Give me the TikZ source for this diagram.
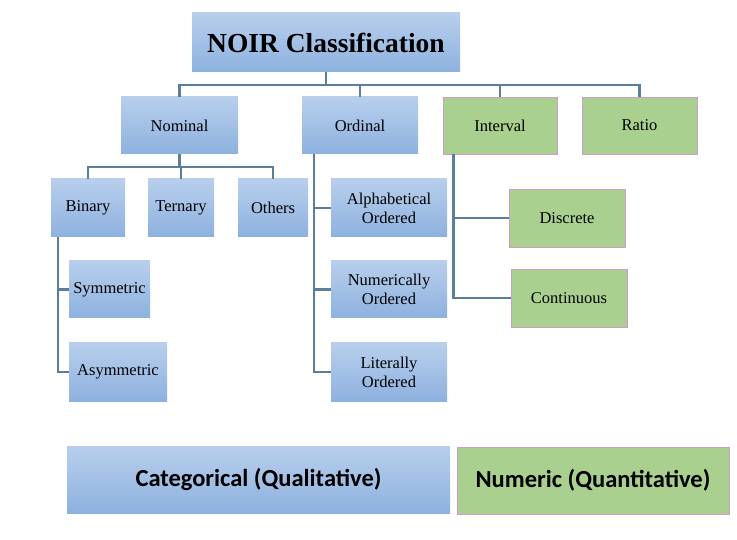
\documentclass[tikz,border=0pt]{standalone}
\usepackage{fontspec}
\setmainfont{Liberation Serif}
\newfontfamily\calib{Carlito}
\definecolor{bluetop}{HTML}{B8CFEC}
\definecolor{bluebot}{HTML}{8DB1DF}
\definecolor{greenfill}{HTML}{A9D08E}
\definecolor{pinkline}{HTML}{CE9BCB}
\definecolor{connline}{HTML}{5B7E9C}
\begin{document}
\begin{tikzpicture}[x=1pt,y=-1pt,
  bluebox/.style={rectangle, inner sep=0pt, top color=bluetop, bottom color=bluebot, draw=none, align=center, font=\fontsize{16.5}{19}\selectfont},
  greenbox/.style={rectangle, inner sep=0pt, fill=greenfill, draw=pinkline, line width=0.9pt, align=center, font=\fontsize{16.5}{19}\selectfont},
  conn/.style={draw=connline, line width=2.4pt},
  sz/.style 2 args={minimum width=#1pt, minimum height=#2pt}]
\useasboundingbox (0,0) rectangle (737,540);
% top
\node[bluebox, sz={268}{59}, font=\fontsize{27.5}{30}\selectfont\bfseries] (root) at (326,42.5) {NOIR Classification};
\node[bluebox, sz={117}{57}] (nominal) at (179.5,125.5) {Nominal};
\node[bluebox, sz={116}{57}] (ordinal) at (360,125.5) {Ordinal};
\node[greenbox, sz={114}{57}] (interval) at (500,125.5) {Interval};
\node[greenbox, sz={115}{57}] (ratio) at (639.5,125.5) {Ratio};
% nominal children
\node[bluebox, sz={74}{58}] (binary) at (88,208) {Binary};
\node[bluebox, sz={66}{58}] (ternary) at (181,208) {Ternary};
\node[bluebox, sz={70}{58}] (others) at (273,208) {Others};
% ordinal children
\node[bluebox, sz={116}{58}] (alpha) at (389,208) {Alphabetical\\Ordered};
\node[bluebox, sz={116}{57}] (numer) at (389,289.5) {Numerically\\Ordered};
\node[bluebox, sz={116}{58}] (liter) at (389,372) {Literally\\Ordered};
% binary children
\node[bluebox, sz={81}{57}] (symm) at (109.5,289.5) {Symmetric};
\node[bluebox, sz={98}{58}] (asym) at (118,372) {Asymmetric};
% interval children
\node[greenbox, sz={116}{58}] (discrete) at (567,218) {Discrete};
\node[greenbox, sz={116}{58}] (cont) at (569,298) {Continuous};
% bottom
\node[bluebox, sz={383}{67}, font=\calib\fontsize{24.5}{28}\selectfont\bfseries] (categ) at (258.5,479.5) {Categorical (Qualitative)};
\node[greenbox, sz={272}{67}, font=\calib\fontsize{24.5}{28}\selectfont\bfseries] (numeric) at (593,480.5) {Numeric (Quantitative)};
% connectors
\coordinate (bus) at (0,85);
\coordinate (bus2) at (0,167);
\draw[conn] (nominal.north) |- (ratio.north |- bus) -- (ratio.north);
\draw[conn] (root.south) -- (root.south |- bus);
\draw[conn] (ordinal.north) -- (ordinal.north |- bus);
\draw[conn] (interval.north) -- (interval.north |- bus);
\draw[conn] (binary.north) |- (others.north |- bus2) -- (others.north);
\draw[conn] (nominal.south) -- (nominal.south |- bus2);
\draw[conn] (ternary.north) -- (ternary.north |- bus2);
\coordinate (ov) at ([xshift=12pt]ordinal.south west);
\draw[conn] (ov) |- (liter.west);
\draw[conn] (alpha.west) -- (alpha.west -| ov);
\draw[conn] (numer.west) -- (numer.west -| ov);
\coordinate (bv) at ([xshift=7pt]binary.south west);
\draw[conn] (bv) |- (asym.west);
\draw[conn] (symm.west) -- (symm.west -| bv);
\coordinate (iv) at ([xshift=11pt]interval.south west);
\draw[conn] (iv) |- (cont.west);
\draw[conn] (discrete.west) -- (discrete.west -| iv);
\end{tikzpicture}
\end{document}
